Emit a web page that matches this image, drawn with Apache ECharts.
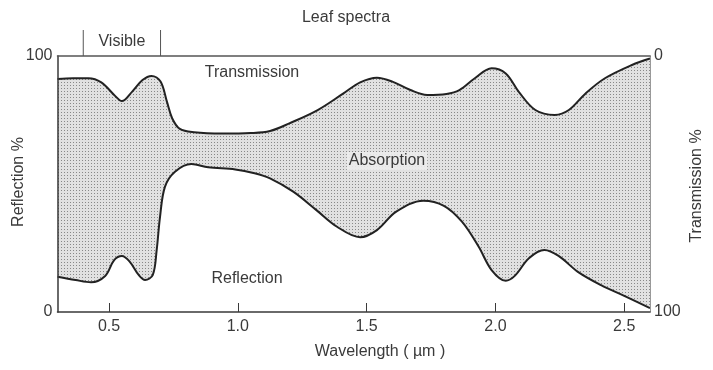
<!DOCTYPE html>
<html><head><meta charset="utf-8">
<script src="https://cdn.jsdelivr.net/npm/echarts@6/dist/echarts.min.js"></script>
<style>html,body{margin:0;padding:0;background:#fff}#c{width:713px;height:370px}</style>
</head><body><div id="c"></div>
<script>
// Upper boundary: transmission % (read on the right, inverted axis)
const transX = [0.30,0.36,0.42,0.47,0.52,0.55,0.59,0.63,0.665,0.70,0.725,0.745,0.775,0.83,0.94,1.05,1.125,1.20,1.31,1.41,1.475,1.54,1.60,1.67,1.735,1.81,1.86,1.92,1.985,2.04,2.09,2.155,2.23,2.285,2.35,2.425,2.53,2.60];
const transmission = [9.0,8.7,8.7,10.3,15.2,17.6,13.9,9.4,7.8,10.0,17.9,24.3,28.5,29.8,30.3,30.1,29.3,26.3,21.1,14.6,10.3,8.5,10.0,13.3,15.2,14.8,13.3,8.7,4.8,6.8,13.9,21.1,23.0,21.1,14.6,8.7,3.5,1.0];
// Lower boundary: reflection % (left axis)
const reflX = [0.30,0.37,0.43,0.485,0.52,0.55,0.58,0.615,0.64,0.67,0.685,0.698,0.717,0.756,0.82,0.885,0.99,1.065,1.125,1.215,1.305,1.385,1.475,1.54,1.615,1.72,1.80,1.87,1.935,1.985,2.04,2.075,2.13,2.19,2.245,2.32,2.41,2.50,2.60];
const reflection = [13.8,12.5,11.6,14.1,20.3,21.9,19.7,14.5,12.5,14.5,24.2,37.2,48.9,54.8,57.8,56.5,55.7,54.2,52.2,47.0,39.8,33.3,29.2,32.0,39.2,43.5,41.5,35.3,25.5,16.4,12.2,14.1,21.0,24.2,21.9,15.7,10.5,6.3,1.5];
const xTicks = [0.5,1.0,1.5,2.0,2.5];
const visibleRange = [0.4, 0.7];

const FONT = 'Liberation Sans';
const FS = 16;
const TXT = '#3a3a3a';
const AX = '#3a3a3a';

// stipple pattern
const pc = document.createElement('canvas');
pc.width = 3; pc.height = 3;
const g = pc.getContext('2d');
g.fillStyle = '#e1e1e1'; g.fillRect(0,0,3,3);
g.fillStyle = '#888888'; g.fillRect(1,1,1,1);

const chart = echarts.init(document.getElementById('c'), null, {renderer:'canvas'});
const lbl = {fontFamily: FONT, fontSize: FS, color: TXT};
const txt = (t, x, y, extra) => ({type: 'text', x: x, y: y, z: 20,
  style: Object.assign({text: t, fontFamily: FONT, fontSize: FS, fill: TXT, align: 'center', verticalAlign: 'middle'}, extra || {})});
chart.setOption({
  animation: false,
  grid: {left: 57.5, right: 63, top: 56, bottom: 58, containLabel: false},
  xAxis: [{
    type: 'value', min: 0.3, max: 2.6, position: 'bottom', z: 10,
    axisLine: {show: true, lineStyle: {color: AX, width: 1.5}},
    axisTick: {show: true, inside: true, length: 9, customValues: xTicks, lineStyle: {color: AX, width: 1}},
    axisLabel: Object.assign({margin: 7, customValues: xTicks, formatter: v => v.toFixed(1)}, lbl),
    splitLine: {show: false}
  }, {
    type: 'value', min: 0.3, max: 2.6, position: 'top', z: 10,
    axisLine: {show: true, lineStyle: {color: '#555', width: 1.5}},
    axisTick: {show: false}, axisLabel: {show: false}, splitLine: {show: false}
  }],
  yAxis: [{
    type: 'value', min: 0, max: 100, interval: 100, position: 'left', z: 10,
    axisLine: {show: true, lineStyle: {color: AX, width: 1.5}},
    axisTick: {show: false},
    axisLabel: Object.assign({margin: 5}, lbl),
    splitLine: {show: false}
  }, {
    type: 'value', min: 0, max: 100, interval: 100, position: 'right', inverse: true, z: 10,
    axisLine: {show: true, lineStyle: {color: '#999', width: 1}},
    axisTick: {show: false},
    axisLabel: Object.assign({margin: 4}, lbl),
    splitLine: {show: false}
  }],
  series: [{
    name: 'Transmission', type: 'line', xAxisIndex: 0, yAxisIndex: 1, z: 2,
    data: transX.map((x, i) => [x, transmission[i]]),
    smooth: 0.35, symbol: 'none',
    lineStyle: {color: '#222', width: 2},
    areaStyle: {origin: 'end', opacity: 1, color: {image: pc, repeat: 'repeat'}}
  }, {
    name: 'Reflection', type: 'line', xAxisIndex: 0, yAxisIndex: 0, z: 3,
    data: reflX.map((x, i) => [x, reflection[i]]),
    smooth: 0.35, symbol: 'none',
    lineStyle: {color: '#222', width: 2},
    areaStyle: {origin: 'start', opacity: 1, color: '#fff'}
  }, {
    name: 'Visible', type: 'custom', xAxisIndex: 0, yAxisIndex: 0, clip: false, z: 5,
    data: [visibleRange],
    renderItem: function (params, api) {
      const a = api.coord([api.value(0), 100]);
      const b = api.coord([api.value(1), 100]);
      const ls = {stroke: '#555', lineWidth: 1};
      return {type: 'group', children: [
        {type: 'line', shape: {x1: a[0], y1: a[1], x2: a[0], y2: a[1] - 26}, style: ls},
        {type: 'line', shape: {x1: b[0], y1: b[1], x2: b[0], y2: b[1] - 26}, style: ls},
        {type: 'text', x: (a[0] + b[0]) / 2, y: a[1] - 14,
         style: {text: 'Visible', fontFamily: FONT, fontSize: FS, fill: TXT, align: 'center', verticalAlign: 'middle'}}
      ]};
    }
  }],
  graphic: [
    txt('Leaf spectra', 346, 18),
    txt('Transmission', 252, 73),
    txt('Absorption', 387, 161, {backgroundColor: 'rgba(236,236,236,0.9)', padding: [1, 2]}),
    txt('Reflection', 247, 279),
    txt('Wavelength ( \u00b5m )', 380, 352),
    Object.assign(txt('Reflection %', 19, 182), {rotation: Math.PI / 2}),
    Object.assign(txt('Transmission %', 697, 186), {rotation: Math.PI / 2})
  ]
});
</script>
</body></html>
